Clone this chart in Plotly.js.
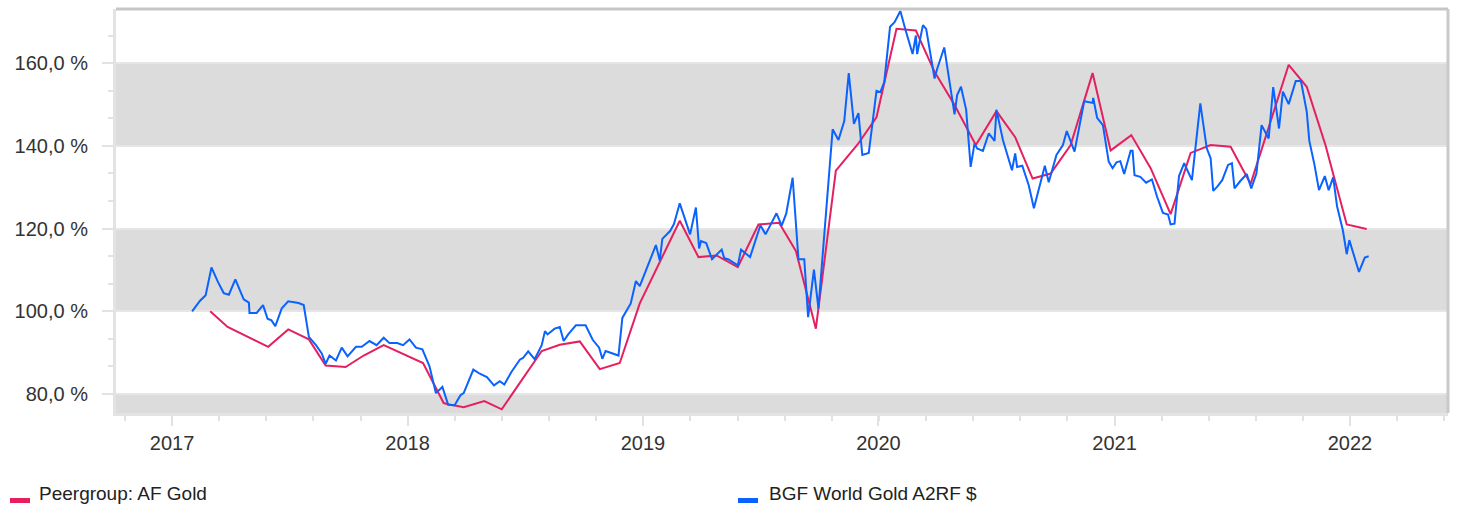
<!DOCTYPE html>
<html>
<head>
<meta charset="utf-8">
<script src="https://cdn.plot.ly/plotly-3.0.1.min.js"></script>
<style>html,body{margin:0;padding:0;background:#fff;}#chart{width:1460px;height:506px;}</style>
</head>
<body>
<div id="chart"></div>
<script>
const seriesNames = ["Peergroup: AF Gold", "BGF World Gold A2RF $"];

const peerDates = ["2017-03-01","2017-03-28","2017-05-30","2017-06-30","2017-08-01","2017-08-27","2017-09-27","2017-10-25","2017-11-25","2018-01-25","2018-02-26","2018-03-05","2018-03-29","2018-04-30","2018-05-27","2018-07-28","2018-08-25","2018-09-25","2018-10-26","2018-11-26","2018-12-27","2019-02-27","2019-03-28","2019-04-25","2019-05-28","2019-06-29","2019-07-31","2019-08-26","2019-09-26","2019-10-27","2019-11-30","2019-12-29","2020-01-29","2020-02-28","2020-03-28","2020-04-28","2020-05-31","2020-07-02","2020-07-31","2020-08-27","2020-09-24","2020-10-25","2020-11-28","2020-12-26","2021-01-27","2021-02-26","2021-03-29","2021-04-29","2021-05-30","2021-06-30","2021-07-31","2021-09-28","2021-10-26","2021-11-24","2021-12-27","2022-01-27"];
const peerValues = [100.0,96.2,91.4,95.6,93.2,86.9,86.5,89.3,91.8,87.5,77.8,77.5,76.8,78.3,76.3,90.4,91.9,92.7,86.0,87.5,101.9,121.9,113.1,113.5,110.7,121.0,121.4,114.6,95.8,134.0,140.4,146.9,168.3,167.9,157.9,149.9,140.2,148.4,142.1,132.1,133.3,140.2,157.6,138.9,142.6,134.6,123.5,138.3,140.2,139.8,130.8,159.6,154.3,140.2,121.0,119.9];

const fundDates = ["2017-02-01","2017-02-13","2017-02-22","2017-03-03","2017-03-13","2017-03-22","2017-03-30","2017-04-09","2017-04-22","2017-04-30","2017-05-01","2017-05-12","2017-05-22","2017-05-29","2017-06-04","2017-06-10","2017-06-20","2017-06-30","2017-07-16","2017-07-24","2017-08-01","2017-08-12","2017-08-21","2017-08-27","2017-09-02","2017-09-12","2017-09-21","2017-09-30","2017-10-13","2017-10-22","2017-11-03","2017-11-14","2017-11-25","2017-12-04","2017-12-16","2017-12-25","2018-01-04","2018-01-14","2018-01-24","2018-01-30","2018-02-04","2018-02-14","2018-02-24","2018-03-05","2018-03-15","2018-03-24","2018-03-29","2018-04-13","2018-04-23","2018-05-04","2018-05-15","2018-05-24","2018-05-31","2018-06-11","2018-06-24","2018-06-29","2018-07-07","2018-07-17","2018-07-28","2018-08-02","2018-08-06","2018-08-17","2018-08-25","2018-08-31","2018-09-07","2018-09-19","2018-10-04","2018-10-15","2018-10-25","2018-10-30","2018-11-04","2018-11-24","2018-11-30","2018-12-13","2018-12-21","2018-12-27","2019-01-08","2019-01-21","2019-01-27","2019-01-31","2019-02-12","2019-02-18","2019-02-27","2019-03-15","2019-03-24","2019-03-29","2019-04-01","2019-04-09","2019-04-18","2019-05-03","2019-05-07","2019-05-13","2019-05-28","2019-06-02","2019-06-16","2019-07-02","2019-07-10","2019-07-27","2019-08-04","2019-08-11","2019-08-21","2019-08-30","2019-09-08","2019-09-14","2019-09-23","2019-09-30","2019-10-22","2019-10-31","2019-11-09","2019-11-16","2019-11-24","2019-12-01","2019-12-07","2019-12-17","2019-12-29","2020-01-04","2020-01-10","2020-01-19","2020-01-26","2020-02-04","2020-02-12","2020-02-23","2020-02-28","2020-03-01","2020-03-10","2020-03-15","2020-03-28","2020-04-01","2020-04-12","2020-04-28","2020-05-02","2020-05-08","2020-05-16","2020-05-23","2020-05-29","2020-06-02","2020-06-11","2020-06-20","2020-06-29","2020-07-02","2020-07-12","2020-07-26","2020-07-31","2020-08-03","2020-08-11","2020-08-21","2020-08-29","2020-09-07","2020-09-15","2020-09-21","2020-10-03","2020-10-13","2020-10-19","2020-10-31","2020-11-15","2020-11-28","2020-11-29","2020-12-05","2020-12-14","2020-12-23","2020-12-29","2021-01-04","2021-01-10","2021-01-16","2021-01-26","2021-01-29","2021-02-01","2021-02-10","2021-02-19","2021-02-28","2021-03-08","2021-03-17","2021-03-25","2021-03-29","2021-04-04","2021-04-11","2021-04-19","2021-05-01","2021-05-14","2021-05-24","2021-05-30","2021-06-03","2021-06-09","2021-06-17","2021-06-26","2021-07-02","2021-07-06","2021-07-15","2021-07-25","2021-08-01","2021-08-09","2021-08-17","2021-08-28","2021-09-04","2021-09-13","2021-09-19","2021-09-28","2021-10-09","2021-10-17","2021-10-26","2021-10-30","2021-11-07","2021-11-14","2021-11-23","2021-11-29","2021-12-06","2021-12-12","2021-12-21","2021-12-27","2021-12-31","2022-01-15","2022-01-24","2022-01-30"];
const fundValues = [100.0,102.5,103.9,110.6,107.1,104.4,104.0,107.7,102.9,102.1,99.6,99.6,101.5,98.2,97.8,96.4,100.7,102.4,102.0,101.5,93.8,91.8,89.8,87.3,89.3,88.1,91.2,89.1,91.4,91.4,92.8,91.8,93.6,92.3,92.3,91.8,93.2,91.2,90.8,88.5,86.7,80.2,81.7,77.4,77.3,79.7,80.2,85.9,84.9,84.1,82.1,83.1,82.3,85.3,88.3,88.7,90.3,88.4,91.8,95.2,94.4,95.8,96.2,92.8,94.4,96.6,96.6,93.1,91.2,88.5,90.4,89.3,98.4,101.9,107.3,106.1,110.9,116.0,112.3,117.5,119.4,121.1,126.1,118.6,125.1,115.2,117.0,116.5,112.6,114.9,112.8,112.6,111.1,114.9,113.1,120.8,118.6,123.7,120.7,123.6,132.3,112.6,112.6,98.6,110.1,100.7,144.0,141.4,146.0,157.6,145.3,147.9,137.8,138.3,153.3,153.0,155.4,168.8,169.9,172.6,168.0,162.2,166.7,162.2,169.2,168.3,156.3,158.6,163.8,147.6,152.3,154.3,148.7,134.9,140.6,139.4,138.8,143.0,141.2,148.7,141.4,134.1,138.2,134.9,135.2,130.5,124.9,130.5,135.2,131.2,137.8,140.2,143.6,138.6,150.8,150.4,151.6,146.8,145.0,136.2,134.6,136.0,136.3,133.2,138.8,138.8,132.9,132.5,131.1,131.9,127.7,123.8,123.4,121.0,121.2,132.7,135.8,131.7,150.3,139.4,137.0,129.1,130.1,131.7,135.4,135.8,129.7,131.5,133.2,129.7,133.3,145.0,141.8,154.2,144.2,153.1,150.1,155.7,155.7,148.3,141.2,135.4,129.3,132.7,129.3,132.4,125.4,119.6,113.8,117.2,109.5,113.0,113.3];

const yTickVals = [80, 100, 120, 140, 160];
const yTickText = ["80,0 %", "100,0 %", "120,0 %", "140,0 %", "160,0 %"];
const xTickVals = ["2017-01-01","2018-01-01","2019-01-01","2020-01-01","2021-01-01","2022-01-01"];
const xTickText = ["2017","2018","2019","2020","2021","2022"];
const bandRanges = [[70, 80], [100, 120], [140, 160]];

const RED = "#e5205f";
const BLUE = "#0a62ff";
const FONT = "Liberation Sans, Arial, sans-serif";
const TICKC = "#e2e2e2";

const yMin = 75.4, yMax = 173.1;

const traces = [
  {x: peerDates, y: peerValues, type: "scatter", mode: "lines", name: seriesNames[0],
   line: {color: RED, width: 2}, hoverinfo: "x+y"},
  {x: fundDates, y: fundValues, type: "scatter", mode: "lines", name: seriesNames[1],
   line: {color: BLUE, width: 2}, hoverinfo: "x+y"}
];

const shapes = bandRanges.map(b => ({
  type: "rect", xref: "paper", yref: "y", x0: 0, x1: 1,
  y0: Math.max(b[0], yMin), y1: b[1], fillcolor: "#dcdcdc", line: {width: 0}, layer: "below"
}));
// frame top and right
shapes.push({type: "line", xref: "paper", yref: "paper", x0: 0, x1: 1, y0: 1, y1: 1, line: {color: "#c6c6c6", width: 3}});
shapes.push({type: "line", xref: "paper", yref: "paper", x0: 1, x1: 1, y0: 0, y1: 1, line: {color: "#c9c9c9", width: 3}});

// custom legend (plot area: left 116, right 1448, top 9, bottom 413)
const PW = 1332, PH = 404, PL = 116, PB = 413;
const px = v => (v - PL) / PW;
const py = v => (PB - v) / PH;
const legendItems = [
  {name: seriesNames[0], color: RED, mx: 10, tx: 37},
  {name: seriesNames[1], color: BLUE, mx: 738, tx: 767}
];
const annotations = [];
legendItems.forEach(it => {
  shapes.push({type: "rect", xref: "paper", yref: "paper", x0: px(it.mx), x1: px(it.mx + 20),
    y0: py(503), y1: py(498), fillcolor: it.color, line: {width: 0}});
  annotations.push({xref: "paper", yref: "paper", x: px(it.tx), y: py(493), xanchor: "left", yanchor: "middle",
    text: it.name, showarrow: false, font: {family: FONT, size: 19, color: "#222"}});
});

const layout = {
  width: 1460, height: 506,
  margin: {l: 116, r: 12, t: 9, b: 93, pad: 0},
  paper_bgcolor: "#ffffff", plot_bgcolor: "#ffffff",
  separators: ",.",
  showlegend: false,
  font: {family: FONT, size: 20, color: "#333"},
  xaxis: {
    type: "date", range: ["2016-10-06", "2022-06-02"],
    tickmode: "array", tickvals: xTickVals, ticktext: xTickText,
    ticks: "outside", ticklen: 10, tickwidth: 2, tickcolor: TICKC,
    showgrid: false, zeroline: false,
    showline: true, linecolor: "#e3e3e3", linewidth: 3,
    tickfont: {family: FONT, size: 20, color: "#333"},
    minor: {tick0: "2017-01-01", dtick: 6311520000, ticks: "outside", ticklen: 5, tickwidth: 2, tickcolor: TICKC, showgrid: false}
  },
  yaxis: {
    range: [yMin, yMax],
    tickmode: "array", tickvals: yTickVals, ticktext: yTickText,
    ticks: "outside", ticklen: 11, tickwidth: 2, tickcolor: TICKC,
    showgrid: true, gridcolor: "#e6e6e6", gridwidth: 2, zeroline: false,
    showline: true, linecolor: "#e3e3e3", linewidth: 3,
    tickfont: {family: FONT, size: 20, color: "#333"},
    ticklabelstandoff: 10,
    minor: {tick0: 80, dtick: 20/3, ticks: "outside", ticklen: 5, tickwidth: 2, tickcolor: TICKC, showgrid: false}
  },
  shapes: shapes,
  annotations: annotations
};

Plotly.newPlot("chart", traces, layout, {displayModeBar: false, staticPlot: true});
</script>
</body>
</html>
